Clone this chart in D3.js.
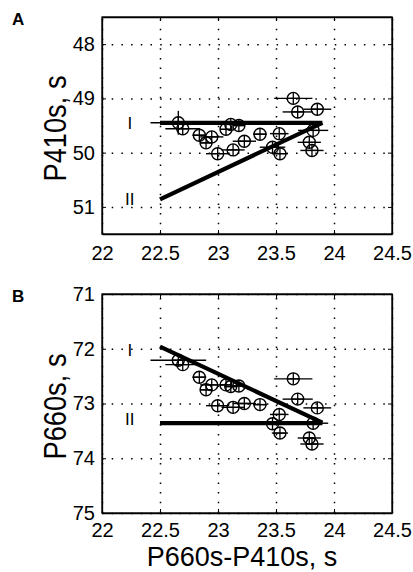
<html>
<head>
<script src="https://d3js.org/d3.v7.min.js"></script>
<style>
    body { margin: 0; background: white; }
    text { font-family: "Liberation Sans", Arial, Helvetica, sans-serif; fill: black; }
    .axis .tick text { font-size: 20px; }
    .axis path { stroke: black; stroke-width: 1.3; }
    .axis line { stroke: black; stroke-width: 1; }
    .grid line { stroke: black; stroke-width: 1.5; stroke-dasharray: 1.5,8.2; }
    .grid path { display: none; }
</style>
</head>
<body>
<script>
    // ticks
    var xTicks = [22, 22.5, 23, 23.5, 24, 24.5];
    var yTicksA = [48, 49, 50, 51];
    var yTicksB = [71, 72, 73, 74, 75];

    // P660s-P410s, one value per event (same x in both panels)
    var diffTime = [22.658, 22.696, 22.839, 22.897, 22.946, 22.997, 23.069, 23.11, 23.18, 23.13, 23.227,
                    23.362, 23.528, 23.47, 23.534, 23.649, 23.687, 23.856, 23.82, 23.787, 23.81];
    var diffErr  = [0.24, 0.15, 0.06, 0.05, 0.1, 0.1, 0.05, 0.05, 0.05, 0.1, 0.1,
                    0.06, 0.08, 0.11, 0.07, 0.165, 0.13, 0.12, 0.13, 0.1, 0.1];
    var p410     = [49.45, 49.56, 49.68, 49.82, 49.71, 50.02, 49.57, 49.48, 49.50, 49.95, 49.79,
                    49.66, 49.65, 49.90, 50.02, 49.00, 49.25, 49.20, 49.59, 49.81, 49.96];
    var p410Err  = [0.22, 0, 0, 0, 0, 0, 0, 0, 0, 0, 0, 0, 0, 0, 0, 0, 0, 0, 0, 0, 0];
    var p660     = [72.21, 72.29, 72.52, 72.75, 72.66, 73.04, 72.66, 72.69, 72.68, 73.07, 73.0,
                    73.02, 73.2, 73.37, 73.54, 72.55, 72.92, 73.08, 73.36, 73.63, 73.74];

    // model lines I and II  [x0, y0, x1, y1]
    var lineA1 = [22.5, 49.45, 23.9, 49.45];
    var lineA2 = [22.5, 50.86, 23.9, 49.45];
    var lineB1 = [22.5, 71.96, 23.9, 73.35];
    var lineB2 = [22.5, 73.36, 23.9, 73.36];
    var lineNames = ["I", "II"];
    var labelYA = [49.45, 50.86];
    var labelYB = [72.02, 73.28];

    var width = 413, height = 572;
    var svg = d3.select("body").append("svg").attr("width", width).attr("height", height)
                .style("background", "white");

    var left = 102, right = 392;
    var x = d3.scaleLinear().domain([22, 24.5]).range([left, right]);

    function drawPanel(letter, yDomain, top, bottom, yTicks, yVals, yErr, lines, labelY, ylabel, xPad) {
        var y = d3.scaleLinear().domain(yDomain).range([top, bottom]);
        var g = svg.append("g");

        // dotted grid
        g.append("g").attr("class", "grid")
            .attr("transform", "translate(0," + bottom + ")")
            .call(d3.axisBottom(x).tickValues(xTicks).tickSize(-(bottom - top)))
            .selectAll("text").remove();
        g.append("g").attr("class", "grid")
            .attr("transform", "translate(" + left + ",0)")
            .call(d3.axisLeft(y).tickValues(yTicks).tickSize(-(right - left)))
            .selectAll("text").remove();

        // axes with inward ticks
        g.append("g").attr("class", "axis")
            .attr("transform", "translate(0," + bottom + ")")
            .call(d3.axisBottom(x).tickValues(xTicks).tickSizeInner(-4).tickSizeOuter(0)
                  .tickPadding(xPad).tickFormat(function(d) { return d; }));
        g.append("g").attr("class", "axis")
            .attr("transform", "translate(" + left + ",0)")
            .call(d3.axisLeft(y).tickValues(yTicks).tickSizeInner(-4).tickSizeOuter(0)
                  .tickPadding(7).tickFormat(function(d) { return d; }));
        g.append("g").attr("class", "axis")
            .attr("transform", "translate(0," + top + ")")
            .call(d3.axisTop(x).tickValues(xTicks).tickSizeInner(-4).tickSizeOuter(0))
            .selectAll("text").remove();
        g.append("g").attr("class", "axis")
            .attr("transform", "translate(" + right + ",0)")
            .call(d3.axisRight(y).tickValues(yTicks).tickSizeInner(-4).tickSizeOuter(0))
            .selectAll("text").remove();

        // error bars
        var idx = d3.range(diffTime.length);
        g.selectAll(".xerr").data(idx).enter().append("line")
            .attr("x1", function(i) { return x(diffTime[i] - diffErr[i]); })
            .attr("x2", function(i) { return x(diffTime[i] + diffErr[i]); })
            .attr("y1", function(i) { return y(yVals[i]); })
            .attr("y2", function(i) { return y(yVals[i]); })
            .attr("stroke", "black").attr("stroke-width", 1.4);
        g.selectAll(".yerr").data(idx.filter(function(i) { return yErr[i] > 0; })).enter().append("line")
            .attr("x1", function(i) { return x(diffTime[i]); })
            .attr("x2", function(i) { return x(diffTime[i]); })
            .attr("y1", function(i) { return y(yVals[i] - yErr[i]); })
            .attr("y2", function(i) { return y(yVals[i] + yErr[i]); })
            .attr("stroke", "black").attr("stroke-width", 1.4);

        // circle + plus markers
        var m = g.selectAll(".mark").data(idx).enter().append("g")
            .attr("transform", function(i) { return "translate(" + x(diffTime[i]) + "," + y(yVals[i]) + ")"; });
        m.append("circle").attr("r", 6).attr("fill", "none").attr("stroke", "black").attr("stroke-width", 1.4);
        m.append("path").attr("d", "M-6,0H6M0,-6V6").attr("stroke", "black").attr("stroke-width", 1.3);

        // thick lines I, II
        g.selectAll(".fit").data(lines).enter().append("line")
            .attr("x1", function(d) { return x(d[0]); })
            .attr("y1", function(d) { return y(d[1]); })
            .attr("x2", function(d) { return x(d[2]); })
            .attr("y2", function(d) { return y(d[3]); })
            .attr("stroke", "black").attr("stroke-width", 4.2);

        g.selectAll(".lab").data(lineNames).enter().append("text")
            .attr("x", x(22.24)).attr("y", function(d, i) { return y(labelY[i]); })
            .attr("dy", "0.36em").attr("text-anchor", "middle")
            .style("font-size", "17px").text(function(d) { return d; });

        // box
        g.append("rect").attr("x", left).attr("y", top).attr("width", right - left).attr("height", bottom - top)
            .attr("fill", "none").attr("stroke", "black").attr("stroke-width", 1.3);

        // panel letter and y label
        svg.append("text").attr("x", 12).attr("y", top + 8).style("font-size", "17px")
            .style("font-weight", "bold").text(letter);
        svg.append("text")
            .attr("transform", "translate(66," + ((top + bottom) / 2 + 3) + ") rotate(-90)")
            .attr("text-anchor", "middle")
            .attr("textLength", 106).attr("lengthAdjust", "spacingAndGlyphs")
            .style("font-size", "31px").text(ylabel);
    }

    drawPanel("A", [47.5, 51.5], 17, 234, yTicksA, p410, p410Err, [lineA1, lineA2], labelYA, "P410s, s", 12);
    drawPanel("B", [71, 75], 294, 513, yTicksB, p660, p660.map(function() { return 0; }), [lineB1, lineB2], labelYB, "P660s, s", 10);

    svg.append("text").attr("x", 242).attr("y", 566).attr("text-anchor", "middle")
        .style("font-size", "27px").text("P660s-P410s, s");
</script>
</body>
</html>
